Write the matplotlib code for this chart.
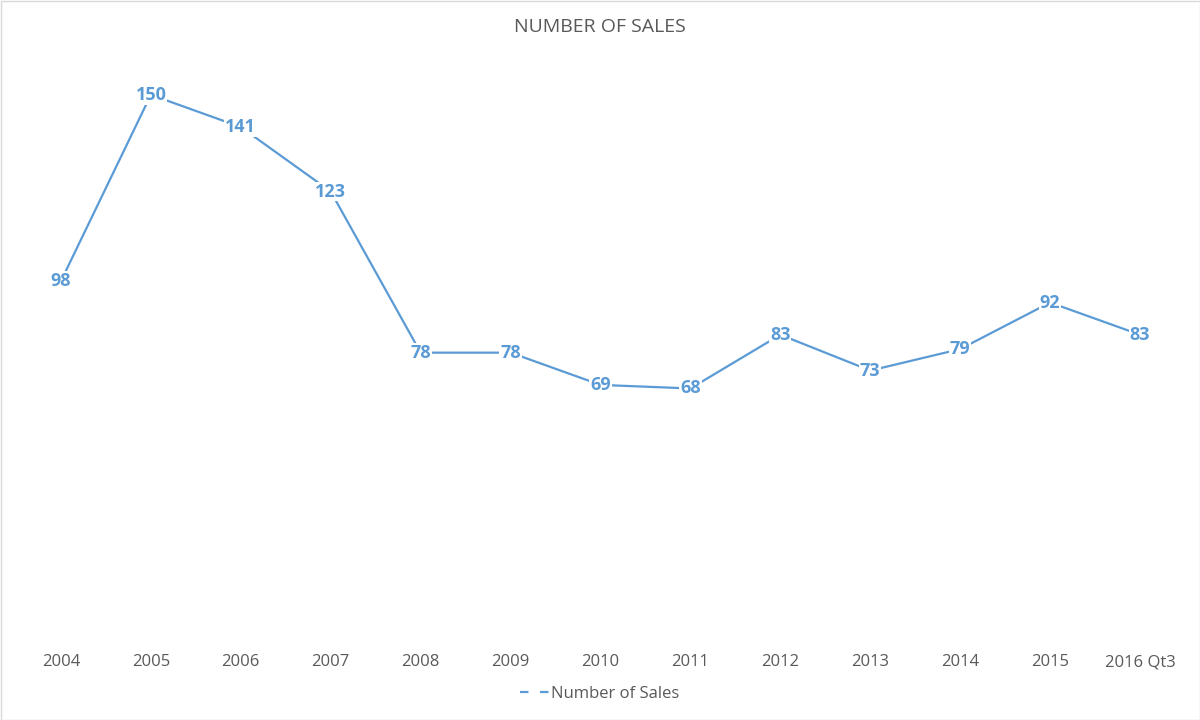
import matplotlib.pyplot as plt
from matplotlib.lines import Line2D
from matplotlib.patches import Rectangle

years = ['2004', '2005', '2006', '2007', '2008', '2009', '2010',
         '2011', '2012', '2013', '2014', '2015', '2016 Qt3']
sales = [98, 150, 141, 123, 78, 78, 69, 68, 83, 73, 79, 92, 83]

azul = '#5B9BD5'
cinza = '#595959'

plt.rcParams['font.family'] = ['Open Sans', 'DejaVu Sans']

fig = plt.figure(figsize=(12, 7.2), dpi=100)
ax = fig.add_axes([16 / 1200, 88 / 720, 1169 / 1200, 573 / 720])

x = list(range(len(years)))
ax.plot(x, sales, color=azul, linewidth=1.6, zorder=2)

# rotulos com fundo branco por cima da linha
for xi, v in zip(x, sales):
    ax.text(xi, v, str(v), ha='center', va='center', fontsize=13,
            fontweight='bold', color=azul, zorder=3,
            bbox=dict(boxstyle='square,pad=0.05', facecolor='white', edgecolor='none'))

ax.set_xlim(-0.5, len(years) - 0.5)
ax.set_ylim(0, 160)
ax.set_xticks(x)
ax.set_xticklabels(years, fontsize=12, color=cinza)
ax.tick_params(axis='x', length=0, pad=16)
ax.set_yticks([])
for s in ax.spines.values():
    s.set_visible(False)

fig.text(0.5, 1 - 27 / 720, 'NUMBER OF SALES', ha='center', va='center',
         fontsize=14, color=cinza)

handle = Line2D([], [], color=azul, linewidth=1.6, linestyle=(0, (3.8, 5.2)))
fig.legend([handle], ['Number of Sales'], loc='center', bbox_to_anchor=(0.5, 1 - 694 / 720),
           frameon=False, fontsize=12, labelcolor=cinza, handlelength=1.8,
           handletextpad=0.05)

fig.patches.append(Rectangle((0.5 / 1200, 0.5 / 720), 1 - 1 / 1200, 1 - 1 / 720,
                             transform=fig.transFigure, fill=False,
                             edgecolor='#D9D9D9', linewidth=1))

fig.savefig('out.png', dpi=100)
